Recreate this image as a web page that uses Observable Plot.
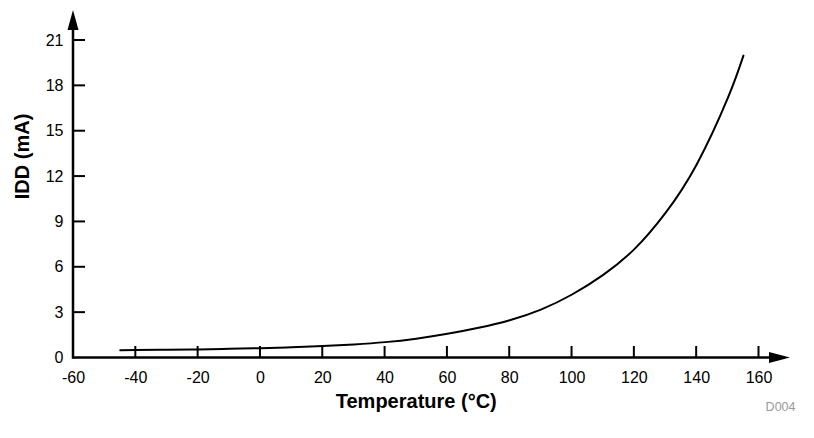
<!DOCTYPE html>
<html>
<head>
<meta charset="utf-8">
<script src="https://cdn.jsdelivr.net/npm/d3@7"></script>
<script src="https://cdn.jsdelivr.net/npm/@observablehq/plot@0.6"></script>
<style>
  html, body { margin: 0; padding: 0; background: #fff; }
</style>
</head>
<body>
<div id="chart"></div>
<script>
// Data
const temperature = [-45, -40, -30, -20, -10, 0, 10, 20, 30, 40, 50, 60, 70, 80, 90, 100, 110, 120, 130, 140, 150, 155];
const idd = [0.52, 0.53, 0.55, 0.57, 0.61, 0.65, 0.71, 0.79, 0.9, 1.05, 1.28, 1.6, 2.0, 2.5, 3.2, 4.2, 5.5, 7.2, 9.6, 12.8, 17.2, 20.0];
const xTicks = [-60, -40, -20, 0, 20, 40, 60, 80, 100, 120, 140, 160];
const yTicks = [0, 3, 6, 9, 12, 15, 18, 21];
const xLabel = "Temperature (°C)";
const yLabel = "IDD (mA)";
const figureId = "D004";

const data = temperature.map((t, i) => ({t, v: idd[i]}));

// Axis lines with filled arrowheads and inward ticks, drawn from the scales
function axisFrame(index, scales) {
  const {x, y} = scales;
  const x0 = x(xTicks[0]), y0 = y(0);
  const xTip = x(xTicks[xTicks.length - 1]) + 31.5;
  const yTip = y(yTicks[yTicks.length - 1]) - 30;
  const g = d3.create("svg:g");
  g.append("line").attr("x1", x0).attr("x2", xTip - 19).attr("y1", y0).attr("y2", y0)
    .attr("stroke", "black").attr("stroke-width", 2.5);
  g.append("line").attr("x1", x0).attr("x2", x0).attr("y1", y0 + 1.25).attr("y2", yTip + 18)
    .attr("stroke", "black").attr("stroke-width", 2.5);
  g.append("path").attr("d", `M${xTip},${y0}L${xTip - 21},${y0 - 5.5}L${xTip - 21},${y0 + 5.5}Z`).attr("fill", "black");
  g.append("path").attr("d", `M${x0},${yTip}L${x0 - 5.5},${yTip + 20}L${x0 + 5.5},${yTip + 20}Z`).attr("fill", "black");
  for (const t of xTicks.slice(1)) {
    g.append("line").attr("x1", x(t)).attr("x2", x(t)).attr("y1", y0).attr("y2", y0 - 11.5)
      .attr("stroke", "black").attr("stroke-width", 2);
  }
  for (const v of yTicks.slice(1)) {
    g.append("line").attr("x1", x0).attr("x2", x0 + 12).attr("y1", y(v)).attr("y2", y(v))
      .attr("stroke", "black").attr("stroke-width", 2);
  }
  return g.node();
}

const chart = Plot.plot({
  width: 814,
  height: 438,
  marginLeft: 73,
  marginRight: 55.5,
  marginTop: 40,
  marginBottom: 80.5,
  style: {fontFamily: "'Liberation Sans', Arial, sans-serif", fontSize: "16px", color: "black", background: "white"},
  x: {domain: [-60, 160]},
  y: {domain: [0, 21]},
  marks: [
    Plot.axisX({ticks: xTicks, tickSize: 0, tickPadding: 14, label: null, fontSize: 16, tickFormat: d => String(d)}),
    Plot.axisY({ticks: yTicks, tickSize: 0, tickPadding: 10, label: null, fontSize: 16, tickFormat: d => String(d)}),
    Plot.line(data, {x: "t", y: "v", stroke: "black", strokeWidth: 2, curve: "natural"}),
    axisFrame,
    Plot.text([xLabel], {frameAnchor: "bottom", dy: 50, lineAnchor: "bottom", text: d => d, fontWeight: "bold", fontSize: 20}),
    Plot.text([yLabel], {frameAnchor: "left", dx: -44.5, rotate: -90, lineAnchor: "bottom", text: d => d, fontWeight: "bold", fontSize: 20}),
    Plot.text([figureId], {frameAnchor: "bottom-right", dx: 36.5, dy: 53, textAnchor: "end", lineAnchor: "bottom", text: d => d, fill: "#999", fontSize: 12.5})
  ]
});
document.getElementById("chart").appendChild(chart);
</script>
</body>
</html>
